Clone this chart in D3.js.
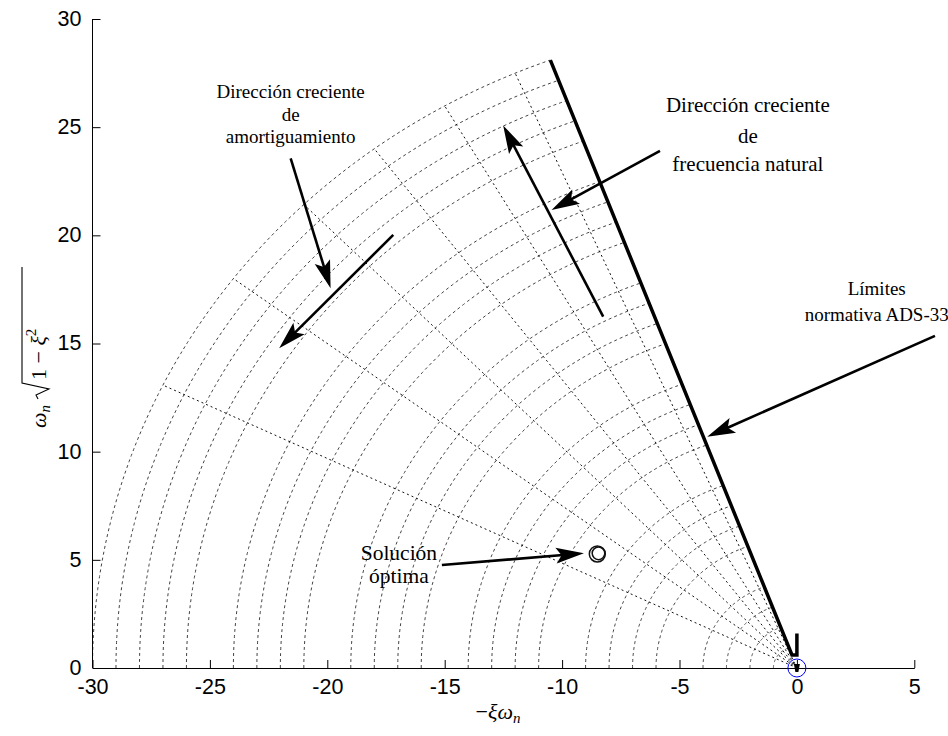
<!DOCTYPE html>
<html><head><meta charset="utf-8">
<script src="https://cdn.jsdelivr.net/npm/d3@7"></script>
<style>body{margin:0;background:#fff}</style>
</head><body><svg id="c" width="948" height="736"></svg>
<script>
// ---------------- data ----------------
const xTicks = [-30, -25, -20, -15, -10, -5, 0, 5];
const yTicks = [0, 5, 10, 15, 20, 25, 30];
const xDomain = [-30, 5];
const yDomain = [0, 30];
// natural frequency circles of the s-plane grid
const wnCircles = [1,2,3,4,6,7,8,9,11,12,13,14,16,17,18,19,21,22,23,24,26,27,28,29,30];
// damping ratio rays
const zetaRays = [0.4, 0.5, 0.6, 0.7, 0.8, 0.9];
const zetaLimit = 0.35;
const wnMax = 30;
// ADS-33 boundary (thick line)
const limitX = [-10.5, -0.21, 0, 0];
const limitY = [28.1, 0.6, 0.6, 1.6];
// optimal solution markers
const optX = [-8.5, -8.45];
const optY = [5.27, 5.3];
// pole at origin (blue circle)
const originX = [0];
const originY = [0];
// annotation arrows: [x0, y0, x1(tip), y1(tip)] in data units
const arrows = [
  [-21.56, 23.56, -19.86, 17.55],
  [-17.19, 20.02, -22.05, 14.78],
  [-8.25, 16.24, -12.51, 25.08],
  [-5.83, 23.90, -10.45, 21.17],
  [5.88, 15.35, -3.82, 10.69],
  [-15.12, 4.76, -9.07, 5.30]
];
// annotation texts: anchor x, first baseline y (data), lines
const notes = [
  {x: -21.56, y: 26.35, size: 19, offs: [0, 23, 45.5], lines: ["Dirección creciente", "de", "amortiguamiento"]},
  {x: -2.09, y: 25.7, size: 21, offs: [0, 31, 59], lines: ["Dirección creciente", "de", "frecuencia natural"]},
  {x: 3.4, y: 17.25, size: 19, offs: [0, 26], lines: ["Límites", "normativa ADS-33"]},
  {x: -16.95, y: 5.0, size: 21.5, offs: [0, 23.5], lines: ["Solución", "óptima"]}
];

// ---------------- scales ----------------
const svg = d3.select('#c');
const x = d3.scaleLinear().domain(xDomain).range([92.5, 914.3]);
const y = d3.scaleLinear().domain(yDomain).range([668, 19]);
const line = d3.line().x(d => x(d[0])).y(d => y(d[1]));

// ---------------- grid ----------------
const phiMax = Math.acos(zetaLimit);
const gGrid = svg.append('g');
wnCircles.forEach(r => {
  const n = 120;
  const pts = d3.range(n + 1).map(i => {
    const phi = phiMax * i / n;
    return [-r * Math.cos(phi), r * Math.sin(phi)];
  });
  gGrid.append('path').attr('d', line(pts))
    .attr('fill', 'none').attr('stroke', '#444').attr('stroke-width', 1)
    .attr('stroke-dasharray', '3,3');
});
zetaRays.forEach(z => {
  const pts = [[0, 0], [-wnMax * z, wnMax * Math.sqrt(1 - z * z)]];
  gGrid.append('path').attr('d', line(pts))
    .attr('fill', 'none').attr('stroke', '#111').attr('stroke-width', 1)
    .attr('stroke-dasharray', '2,3');
});

// ---------------- axes ----------------
const fmt = d => String(d);
const ax = svg.append('g').attr('transform', `translate(0,${y(0)})`)
  .call(d3.axisBottom(x).tickValues(xTicks).tickFormat(fmt).tickSizeInner(-8).tickSizeOuter(0).tickPadding(11));
const ay = svg.append('g').attr('transform', `translate(${x(-30)},0)`)
  .call(d3.axisLeft(y).tickValues(yTicks).tickFormat(fmt).tickSizeInner(-8).tickSizeOuter(0).tickPadding(11));
[ax, ay].forEach(g => {
  g.selectAll('text').attr('font-family', 'Liberation Sans, Arial, sans-serif').attr('font-size', 21.5).attr('fill', '#000');
  g.selectAll('line').attr('stroke', '#000');
  g.select('.domain').attr('stroke', '#000');
});
ay.selectAll('text').attr('dy', '0.3em');
ay.select('.domain').remove();
svg.append('line').attr('x1', x(-30)).attr('x2', x(-30)).attr('y1', y(0)).attr('y2', y(30)).attr('stroke', '#000');

// ---------------- ADS-33 limit ----------------
const limPts = limitX.map((v, i) => [v, limitY[i]]);
svg.append('path').attr('d', line(limPts)).attr('fill', 'none')
  .attr('stroke', '#000').attr('stroke-width', 3.5).attr('stroke-linejoin', 'miter');
// small pole mark at origin
svg.append('path')
  .attr('d', `M${x(0)-3},${y(0)-4}L${x(0)+3},${y(0)-4}L${x(0)+1.5},${y(0)+4}L${x(0)-1.5},${y(0)+4}Z`)
  .attr('fill', '#000');
svg.selectAll('.orig').data(originX).enter().append('circle')
  .attr('cx', (d, i) => x(d)).attr('cy', (d, i) => y(originY[i])).attr('r', 9)
  .attr('fill', 'none').attr('stroke', '#0000ff').attr('stroke-width', 1);

// ---------------- optimum ----------------
svg.selectAll('.opt').data(optX).enter().append('circle')
  .attr('cx', d => x(d)).attr('cy', (d, i) => y(optY[i])).attr('r', (d, i) => i === 0 ? 8 : 6.3)
  .attr('fill', 'none').attr('stroke', '#111').attr('stroke-width', 1.5);

// ---------------- arrows ----------------
function headPath(x1, y1, x2, y2, len, half) {
  const a = Math.atan2(y2 - y1, x2 - x1);
  const ux = Math.cos(a), uy = Math.sin(a);
  const nx = -uy, ny = ux;
  const bx = x2 - ux * len, by = y2 - uy * len;
  const mx = x2 - ux * len * 0.8, my = y2 - uy * len * 0.8;
  return `M${x2},${y2}L${bx + nx * half},${by + ny * half}L${mx},${my}L${bx - nx * half},${by - ny * half}Z`;
}
arrows.forEach(a => {
  const x1 = x(a[0]), y1 = y(a[1]), x2 = x(a[2]), y2 = y(a[3]);
  const ang = Math.atan2(y2 - y1, x2 - x1);
  svg.append('line').attr('x1', x1).attr('y1', y1)
    .attr('x2', x2 - Math.cos(ang) * 18).attr('y2', y2 - Math.sin(ang) * 18)
    .attr('stroke', '#000').attr('stroke-width', 2.6);
  svg.append('path').attr('d', headPath(x1, y1, x2, y2, 28, 8)).attr('fill', '#000');
});

// ---------------- annotation texts ----------------
notes.forEach(n => {
  const t = svg.append('text').attr('font-family', 'Liberation Serif, Times New Roman, serif')
    .attr('font-size', n.size).attr('text-anchor', 'middle').attr('fill', '#000');
  n.lines.forEach((s, i) => {
    t.append('tspan').attr('x', x(n.x)).attr('y', y(n.y) + n.offs[i]).text(s);
  });
});

// ---------------- axis labels ----------------
const serifI = 'Liberation Serif, Times New Roman, serif';
const xl = svg.append('text').attr('x', 498).attr('y', 719).attr('text-anchor', 'middle')
  .attr('font-family', serifI).attr('font-size', 22).attr('fill', '#000');
xl.append('tspan').text('−');
xl.append('tspan').attr('font-style', 'italic').text('ξω');
xl.append('tspan').attr('font-style', 'italic').attr('font-size', 15).attr('dy', 4).text('n');

const yl = svg.append('g').attr('transform', 'translate(46,347) rotate(-90)');
const yt = yl.append('text').attr('x', -81).attr('y', 0).attr('font-family', serifI).attr('font-size', 22).attr('fill', '#000');
yt.append('tspan').attr('font-style', 'italic').text('ω');
yt.append('tspan').attr('font-style', 'italic').attr('font-size', 15).attr('dy', 4).text('n');
yl.append('path').attr('d', 'M-52,-8 L-48,-10 L-42,3 L-36,-24 L80,-24')
  .attr('fill', 'none').attr('stroke', '#000').attr('stroke-width', 1.1);
const yt2 = yl.append('text').attr('x', -33).attr('y', 0).attr('font-family', serifI).attr('font-size', 22).attr('fill', '#000');
yt2.append('tspan').text('1 − ');
yt2.append('tspan').attr('font-style', 'italic').text('ξ');
yt2.append('tspan').attr('font-size', 15).attr('dy', -10).text('2');
</script>
</body></html>
